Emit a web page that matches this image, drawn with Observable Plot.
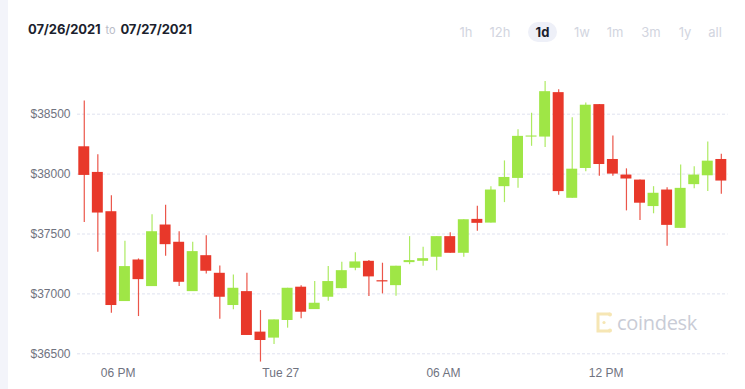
<!DOCTYPE html>
<html>
<head>
<meta charset="utf-8">
<script src="https://cdn.jsdelivr.net/npm/d3@7"></script>
<script src="https://cdn.jsdelivr.net/npm/@observablehq/plot@0.6"></script>
<style>
  html, body { margin: 0; padding: 0; background: #fff; }
  body { width: 745px; height: 389px; position: relative; overflow: hidden; font-family: Inter, "Noto Sans", sans-serif; }
  #strip { position: absolute; left: 0; top: 0; width: 8px; height: 389px; background: #f3f4fa; }
  #header { position: absolute; left: 0; top: 0; width: 745px; height: 55px; }
  #dates { position: absolute; left: 28px; top: 21px; font-size: 13px; font-weight: 700; color: #1c1f2e; white-space: nowrap; letter-spacing: -0.1px; }
  #dates .to { font-weight: 400; color: #b9bcc8; font-size: 11px; margin: 0 5px; }
  .btn { position: absolute; top: 23px; width: 30px; text-align: center; font-size: 13px; line-height: 18px; color: #d2d5e0; }
  .btn.active { color: #1c1f2e; font-weight: 700; }
  #pill { position: absolute; left: 528px; top: 22px; width: 29px; height: 20px; border-radius: 10px; background: #eef0f8; }
  #chart { position: absolute; left: 0; top: 55px; }
  #wm { position: absolute; left: 595px; top: 310px; height: 24px; display: flex; align-items: center; }
  #wm span { font-family: "Open Sans", sans-serif; font-size: 20px; color: #c9ccd6; margin-left: 4px; letter-spacing: -0.3px; }
</style>
</head>
<body>
<div id="strip"></div>
<div id="header">
  <div id="dates">07/26/2021<span class="to">to</span>07/27/2021</div>
  <div id="pill"></div>
</div>
<div id="chart"></div>
<div id="wm">
  <svg width="18" height="21" viewBox="0 0 18 21">
    <path d="M15 2 H3 V19 H15" fill="none" stroke="#f6e6b4" stroke-width="3"/>
    <circle cx="15" cy="2.5" r="2" fill="#f6e6b4"/>
    <circle cx="15" cy="18.5" r="2" fill="#f6e6b4"/>
    <circle cx="9" cy="10.5" r="1.6" fill="#f6e6b4"/>
  </svg>
  <span>coindesk</span>
</div>
<script>
// ---- data (30-minute candles, 07/26/2021 16:30 -> 07/27/2021 16:30) ----
const opens  = [38228,38014,37686,36936,37283,37061,37575,37431,37019,37319,37172,36903,37019,36681,36631,36778,37056,36869,36972,37044,37214,37272,37110,37069,37261,37272,37306,37478,37339,37622,37591,37895,37964,38309,38309,38680,37798,38047,38580,38122,37992,37950,37729,37867,37547,37912,37986,38122];
const highs  = [38611,38161,37819,37439,37292,37661,37739,37519,37431,37486,37233,37158,37172,36861,36783,37047,37069,37103,37228,37264,37344,37278,37256,37231,37478,37389,37478,37511,37619,37731,37895,38110,38370,38508,38773,38704,38470,38594,38580,38318,38044,37950,37895,37887,38075,38061,38268,38166];
const lows   = [37597,37347,36839,36936,36811,37061,37314,37061,37019,37167,36789,36867,36653,36431,36578,36714,36792,36869,36939,37044,37194,36978,37000,36981,37244,37231,37194,37339,37306,37522,37591,37762,37881,38232,38221,37823,37798,38019,37983,37983,37693,37613,37669,37398,37547,37878,37854,37831];
const closes = [37989,37675,36903,37228,37119,37519,37411,37097,37353,37189,36972,37047,36653,36611,36783,37047,36847,36922,37103,37194,37267,37142,37100,37231,37278,37294,37478,37339,37619,37589,37867,37972,38315,38318,38688,37854,38041,38575,38080,38000,37959,37757,37840,37572,37881,37992,38108,37942];
const yTicks = [36500, 37000, 37500, 38000, 38500];
const xTickTimes = [Date.UTC(2021,6,26,18,0), Date.UTC(2021,6,27,0,0), Date.UTC(2021,6,27,6,0), Date.UTC(2021,6,27,12,0)];
const xTickLabels = ["06 PM", "Tue 27", "06 AM", "12 PM"];
const buttons = ["1h", "12h", "1d", "1w", "1m", "3m", "1y", "all"];

// ---- build ----
const start = Date.UTC(2021,6,26,16,30);
const HALF = 30 * 60 * 1000;
const candles = opens.map((o, i) => ({
  t0: new Date(start + i * HALF),
  t1: new Date(start + (i + 1) * HALF),
  tm: new Date(start + i * HALF + HALF / 2),
  open: o, high: highs[i], low: lows[i], close: closes[i],
  lo: Math.min(o, closes[i]), hi: Math.max(o, closes[i]),
  up: closes[i] >= o
}));
const RED = "#e8382a", GREEN = "#9fe646";
const col = d => d.up ? GREEN : RED;
const labelOf = new Map(xTickTimes.map((t, i) => [t, xTickLabels[i]]));

const chart = Plot.plot({
  width: 745,
  height: 334,
  marginLeft: 77,
  marginRight: 17.4,
  marginTop: 58.7,
  marginBottom: 35.7,
  style: { fontFamily: "'Liberation Sans', Arial, sans-serif", fontSize: "12px", color: "#70737f", background: "transparent", overflow: "visible" },
  x: { type: "utc", domain: [new Date(start), new Date(start + 48 * HALF)] },
  y: { domain: [36500, 38500] },
  marks: [
    Plot.ruleY(yTicks, { stroke: "#dfe2ef", strokeWidth: 1, strokeDasharray: "3,2" }),
    Plot.ruleX(candles, { x: "tm", y1: "low", y2: "high", stroke: col, strokeWidth: 1.2, strokeOpacity: 0.85 }),
    Plot.rect(candles, { x1: "t0", x2: "t1", y1: "lo", y2: "hi", fill: col, insetLeft: 1.3, insetRight: 1.3 }),
    Plot.axisY({ ticks: yTicks, tickFormat: d => "$" + d, tickSize: 0, tickPadding: 7 }),
    Plot.axisX({ ticks: xTickTimes.map(t => new Date(t)), tickFormat: d => labelOf.get(+d), tickSize: 0, tickPadding: 15 })
  ]
});
document.getElementById("chart").appendChild(chart);

const header = document.getElementById("header");
const centers = [466, 500, 542.5, 582, 615, 651, 685, 715];
buttons.forEach((b, i) => {
  const el = document.createElement("div");
  el.className = "btn" + (b === "1d" ? " active" : "");
  el.style.left = (centers[i] - 15) + "px";
  el.textContent = b;
  header.appendChild(el);
});
</script>
</body>
</html>
